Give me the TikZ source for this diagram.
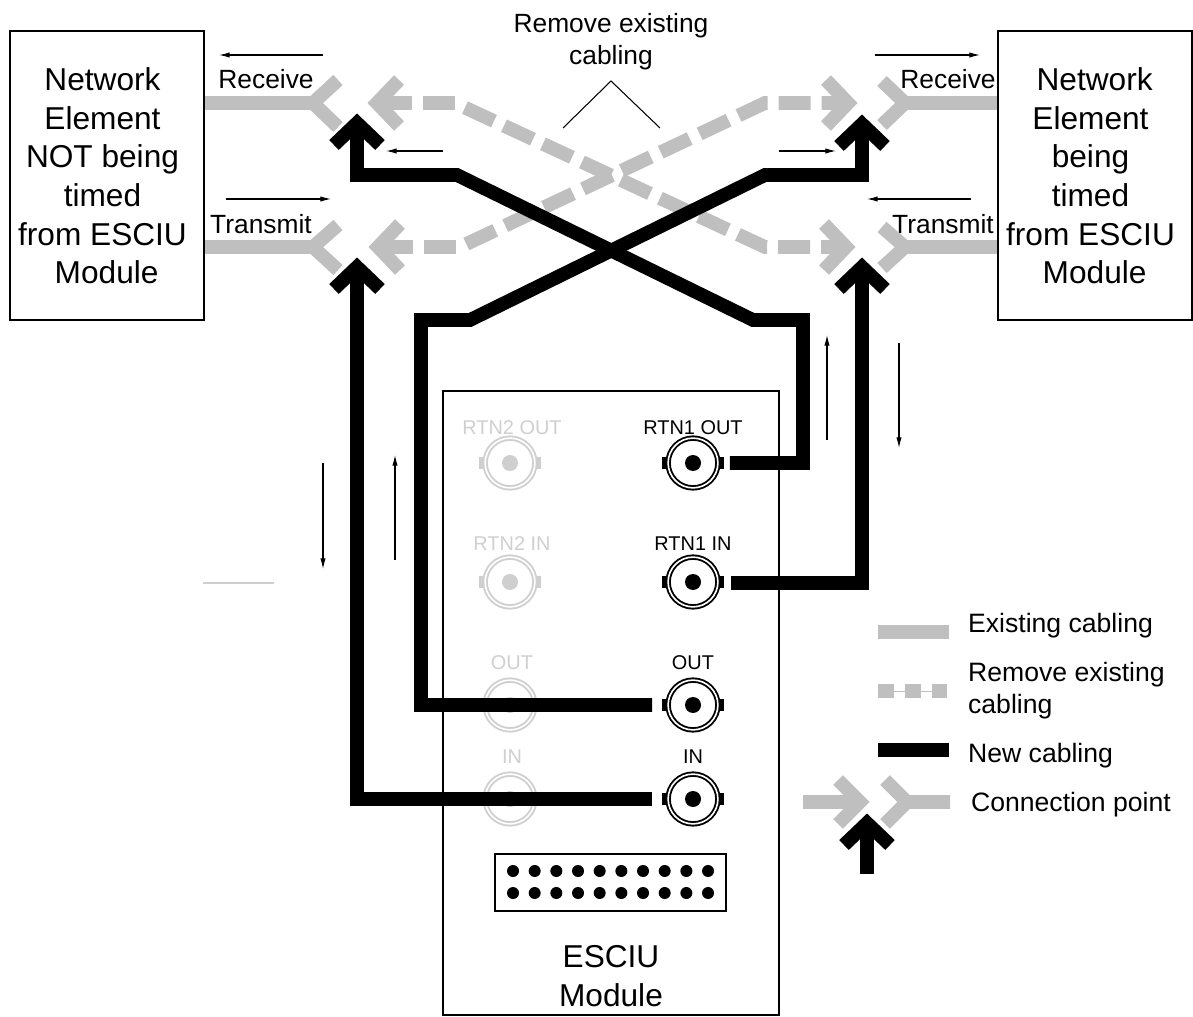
\documentclass[tikz,border=0pt]{standalone}
\usepackage{fontspec}
\setmainfont{Liberation Sans}
\usetikzlibrary{arrows.meta,positioning}

\definecolor{cablegray}{HTML}{BFBFBF}
\definecolor{portgray}{HTML}{CFCFCF}

\tikzset{
  newcable/.style={line width=11.7pt,black,miter limit=10},
  oldcable/.style={line width=11.7pt,cablegray,miter limit=10},
  dashcable/.style={oldcable,dash pattern=on 27.3pt off 9.4pt},
  thinarrow/.style={line width=0.9pt,-{Latex[length=9pt,width=4.5pt]}},
  panel/.style={draw,line width=2.1pt},
  bigtext/.style={font=\fontsize{27}{33}\selectfont,align=center},
  midtext/.style={font=\fontsize{22.5}{27.3}\selectfont,align=center},
  legendtext/.style={font=\fontsize{22.7}{27.3}\selectfont,align=left,anchor=west},
  porttext/.style={font=\fontsize{17}{20}\selectfont},
  bncring/.style={circle,draw,inner sep=0pt,outer sep=0pt,minimum size=42.5pt,
    line width=1.6pt,double=white,double distance=1.4pt},
}

\begin{document}
\begin{tikzpicture}[x=0.03cm,y=-0.03cm]
\useasboundingbox (0,0) rectangle (1193,1017);

\def\yrx{103};
\def\ytx{247};
\def\ynewa{175};
\def\ynewb{320};

% boxes
\node[panel,minimum width=165.5pt,minimum height=246.7pt] (nenot) at (107,175.5) {};
\node[panel,minimum width=165.5pt,minimum height=246.7pt] (netimed) at (1095,175.5) {};
\node[panel,minimum width=286.8pt,minimum height=532.6pt] (esciu) at (611,703) {};
\node[panel,minimum width=197.2pt,minimum height=48.7pt] (alarm) at (610.5,882.5) {};

\node[bigtext] (nenottext) at (102.5,176) {Network\\Element\\NOT being\\timed\\from ESCIU\\\hspace*{7pt}Module};
\node[bigtext] (netimedtext) at (1090.5,176) {\hspace*{7pt}Network\\Element\\being\\timed\\from ESCIU\\\hspace*{7pt}Module};
\node[bigtext] (esciutext) at (611,976) {ESCIU\\Module};
\node[midtext] (removetext) at (611,41.5) {Remove existing\\cabling};

\node[midtext] (rxl) at (266,79) {Receive};
\node[midtext] (txl) at (261,224) {Transmit};
\node[midtext] (rxr) at (948,79) {Receive};
\node[midtext] (txr) at (943,224) {Transmit};

% pins on the alarm connector
\foreach \i in {0,...,9} {
  \fill (513+\i*21.67,871) circle (6);
  \fill (513+\i*21.67,893) circle (6);
}

% ports
\foreach \name/\x/\y/\col/\txt/\tx/\ty in {
  rtntwoout/510/463/portgray/RTN2 OUT/512/428,
  rtntwoin/510/582/portgray/RTN2 IN/512/544,
  outb/510/705/portgray/OUT/512/663,
  inb/510/799/portgray/IN/512/757,
  rtnoneout/693/463/black/RTN1 OUT/693/428,
  rtnonein/693/582/black/RTN1 IN/693/544,
  outa/693/705/black/OUT/693/663,
  ina/693/799/black/IN/693/757} {
  \fill[\col] (\x-31,\y-6) rectangle (\x+31,\y+6);
  \node[bncring,draw=\col,fill=white] (\name) at (\x,\y) {};
  \fill[\col] (\x,\y) circle (8);
  \node[porttext,text=\col] at (\tx,\ty) {\txt};
}

% connection points
\coordinate (gla) at (377,\yrx);
\coordinate (glb) at (378,\ytx);
\coordinate (gra) at (848,\yrx);
\coordinate (grb) at (846,\ytx);
\coordinate (bla) at (357,123);
\coordinate (blb) at (357,267);
\coordinate (bra) at (862,124);
\coordinate (brb) at (862,267);

% existing cabling
\draw[oldcable] (nenot.east |- 0,\yrx) -- (313,\yrx) -- (338,80) (313,\yrx) -- (338,127);
\draw[oldcable] (nenot.east |- 0,\ytx) -- (313,\ytx) -- (338,225) (313,\ytx) -- (338,270);
\draw[oldcable] (netimed.west |- 0,\yrx) -- (905,\yrx) -- (882,81) (905,\yrx) -- (882,125);
\draw[oldcable] (netimed.west |- 0,\ytx) -- (905,\ytx) -- (882,227) (905,\ytx) -- (882,268);

\foreach \p in {gla,glb} \draw[oldcable] (\p) ++(22,-23) -- (\p) -- ++(22,23);
\foreach \p in {gra,grb} \draw[oldcable] (\p) ++(-22,-23) -- (\p) -- ++(-22,23);

% remove existing
\draw[dashcable] (380,\yrx) -- (455,\yrx) -- (765,\ytx) -- (grb);
\draw[dashcable] (381,\ytx) -- (460,\ytx) -- (765,\yrx) -- (gra);

% new cabling
\draw[newcable] (rtnoneout.east) ++(12,0) -- (803,463) -- (803,\ynewb) -- (753,\ynewb) -- (457,\ynewa) -- (357,\ynewa) -- (bla);
\draw[newcable] (rtnonein.east) ++(13,1) -- (862,583) -- (brb);
\draw[newcable] (outa.west) ++(-16,0) -- (421,705) -- (421,\ynewb) -- (470,\ynewb) -- (765,\ynewa) -- (862,\ynewa) -- (bra);
\draw[newcable] (ina.west) ++(-16,0) -- (357,799) -- (blb);
\foreach \p in {bla,blb,bra,brb} \draw[newcable] (\p) ++(-23,22) -- (\p) -- ++(23,22);

% thin arrows
\coordinate (ta) at (323,55);   \coordinate (tb) at (219,55);
\coordinate (tc) at (443,151);  \coordinate (td) at (386,151);
\coordinate (te) at (226,199);  \coordinate (tf) at (331,199);
\coordinate (tg) at (875,55);   \coordinate (th) at (980,55);
\coordinate (ti) at (779,151);  \coordinate (tj) at (836,151);
\coordinate (tk) at (971,199);  \coordinate (tl) at (867,199);
\coordinate (tm) at (827,440);  \coordinate (tn) at (827,335);
\coordinate (to) at (899,343);  \coordinate (tp) at (899,448);
\coordinate (tq) at (395,560);  \coordinate (tr) at (395,455);
\coordinate (ts) at (323,463);  \coordinate (tt) at (323,569);
\foreach \a/\b in {ta/tb,tc/td,te/tf,tg/th,ti/tj,tk/tl,tm/tn,to/tp,tq/tr,ts/tt}
  \draw[thinarrow] (\a) -- (\b);

% callout under the remove label
\coordinate (ca) at (563,128);
\coordinate (cb) at (611,81);
\coordinate (cc) at (660,128);
\draw[line width=0.9pt] (ca) -- (cb) -- (cc);

\coordinate (ga) at (203,583);
\coordinate (gb) at (274,583);
\draw[portgray,line width=0.9pt] (ga) -- (gb);

% legend
\coordinate (lea) at (878,632);  \coordinate (leb) at (949,632);
\coordinate (lda) at (878,691);  \coordinate (ldb) at (947,691);
\coordinate (lna) at (878,750);  \coordinate (lnb) at (949,750);
\draw[oldcable] (lea) -- (leb);
\draw[cablegray,line width=0.8pt] (lda) -- (ldb);
\draw[oldcable,dash pattern=on 14pt off 9pt] (lda) -- (ldb);
\draw[newcable] (lna) -- (lnb);

\coordinate (lga) at (803,802);
\coordinate (lgb) at (860,802);
\coordinate (lgc) at (950,802);
\coordinate (lgd) at (907,802);
\coordinate (lbh) at (867,823);
\coordinate (lbt) at (867,874);
\draw[oldcable] (lga) -- (lgb);
\draw[oldcable] (lgb) ++(-22,-22) -- (lgb) -- ++(-22,22);
\draw[oldcable] (lgc) -- (lgd) -- ++(-22,-22) (lgd) -- ++(-22,22);
\draw[newcable] (lbt) -- (lbh);
\draw[newcable] (lbh) ++(-23,22) -- (lbh) -- ++(23,22);

\node[legendtext] (lex) at (964,626) {Existing cabling};
\node[legendtext] (lrm) at (964,691) {Remove existing\\cabling};
\node[legendtext] (lnw) at (964,756) {New cabling};
\node[legendtext] (lcp) at (967,805) {Connection point};
\end{tikzpicture}
\end{document}
